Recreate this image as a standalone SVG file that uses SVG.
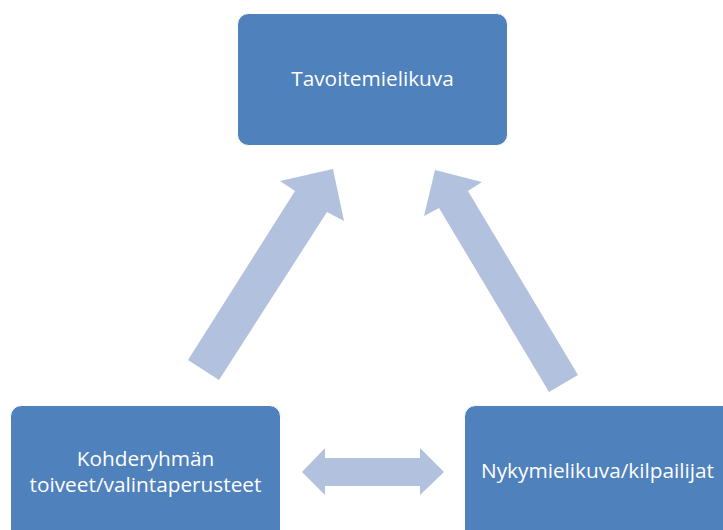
<svg xmlns="http://www.w3.org/2000/svg" width="723" height="530" viewBox="0 0 723 530">
<style>
.box{fill:#4F81BD;stroke:#FFFFFF;stroke-width:1}
.arr{fill:#B2C2DE}
.t{font-family:"Open Sans","Liberation Sans",sans-serif;font-size:20.8px;fill:#FFFFFF;text-anchor:middle}
</style>
<rect width="723" height="530" fill="#FFFFFF"/>
<g id="connectors">
<polygon class="arr" points="188,360 295,191 280,181 333,169 344,221 327,212 219,380"/>
<polygon class="arr" points="578,375 468,191 482,182 435,170 424,216 439,208 549,392"/>
<polygon class="arr" points="302,472 325,448 325,458 420,458 420,448 444,472 420,495 420,486 325,486 325,495"/>
</g>
<g id="node-top">
<rect class="box" x="237.5" y="13.5" width="270" height="132" rx="11"/>
<text class="t" x="372.5" y="86">Tavoitemielikuva</text>
</g>
<g id="node-left">
<rect class="box" x="10.5" y="405.5" width="270" height="140" rx="11"/>
<text class="t" x="145.5" y="466">Kohderyhmän</text>
<text class="t" x="145.5" y="492">toiveet/valintaperusteet</text>
</g>
<g id="node-right">
<rect class="box" x="464.5" y="405.5" width="280" height="140" rx="11"/>
<text class="t" x="597.5" y="478">Nykymielikuva/kilpailijat</text>
</g>
</svg>
